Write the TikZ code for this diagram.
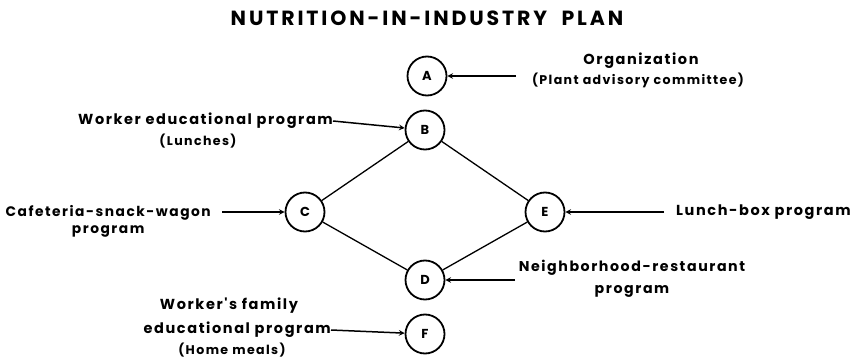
\documentclass[tikz,border=0pt]{standalone}
\usepackage{fontspec}
\setmainfont{Poppins}
\newfontfamily\wideface[LetterSpace=11]{Poppins}
\newfontfamily\titleface[LetterSpace=14]{Poppins}
\tikzset{
	stage/.style={draw,circle,line width=1.8pt,minimum size=39pt,inner sep=0pt,font=\bfseries\fontsize{13}{13}\selectfont},
	note/.style={align=center,inner sep=0pt,font=\wideface\bfseries\fontsize{14.5}{17}\selectfont},
	subnote/.style={align=center,inner sep=0pt,font=\wideface\bfseries\fontsize{12.6}{12}\selectfont},
	feed/.style={->,line width=1.5pt},
	link/.style={line width=1.3pt}
}

\begin{document}
\begin{tikzpicture}[>=stealth,x=1pt,y=-1pt]
	\useasboundingbox (0,0) rectangle (851,358);
	\node[font=\titleface\bfseries\fontsize{20.5}{20}\selectfont] (title) at (427,18) {NUTRITION-IN-INDUSTRY\ \ PLAN};
	
	\node[stage] (A) at (427,76) {A};
	\node[stage] (B) at (425,130) {B};
	\node[stage] (C) at (305,212) {C};
	\node[stage] (E) at (545,212) {E};
	\node[stage] (D) at (425,280) {D};
	\node[stage] (F) at (425,334) {F};
	
	\draw[link] (B)--(C)--(D)--(E)--(B);
	
	% labels
	\node[note] (org) at (641,61) {Organization};
	\node[subnote] (orgsub) at (638,80) {(Plant advisory committee)};
	\node[note,anchor=east] (wep) at (333,121) {Worker educational program};
	\node[subnote] (lunches) at (198,141) {(Lunches)};
	\node[note,anchor=east,font=\wideface\bfseries\fontsize{13.8}{17}\selectfont] (caf) at (211,221) {Cafeteria-snack-wagon\\program};
	\node[note,anchor=west] (box) at (676,212) {Lunch-box program};
	\node[note,font=\wideface\bfseries\fontsize{14.2}{22}\selectfont] (rest) at (632,279) {Neighborhood-restaurant\\program};
	\node[note] (fam) at (229,306) {Worker's family};
	\node[note,anchor=east] (famedu) at (331,330) {educational program};
	\node[subnote] (home) at (232,350) {(Home meals)};
	
	% arrows
	\coordinate (orgtail) at (516,76);
	\coordinate (caftail) at (222,212);
	\coordinate (boxtail) at (664,212);
	\coordinate (resttail) at (515,280);
	\draw[feed] (orgtail)--(A);
	\draw[feed] (wep.east)--(B);
	\draw[feed] (caftail)--(C);
	\draw[feed] (boxtail)--(E);
	\draw[feed] (resttail)--(D);
	\draw[feed] (famedu.east)--(F);
\end{tikzpicture}
\end{document}
